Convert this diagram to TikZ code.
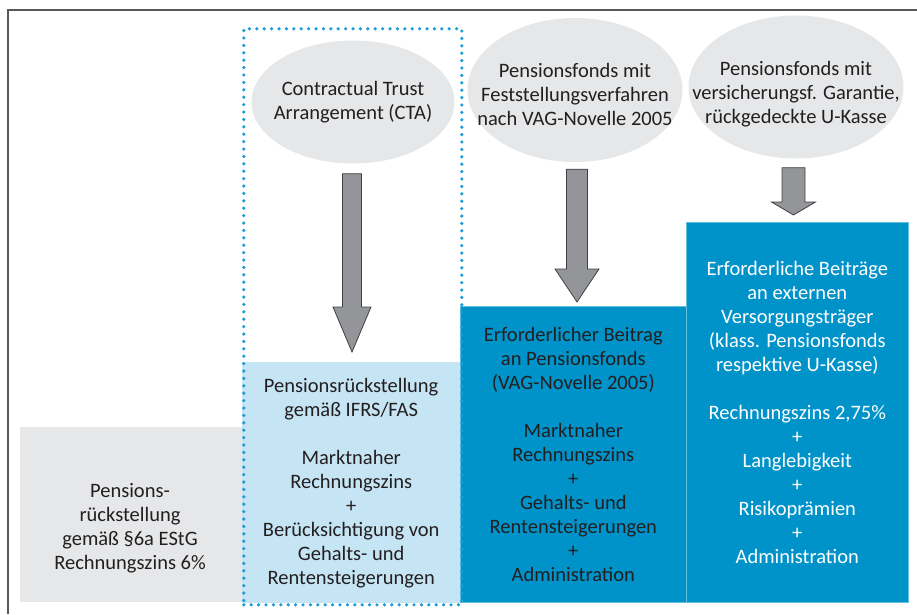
\documentclass[tikz,border=0pt]{standalone}
\usepackage{fontspec}
\setmainfont{Carlito}
\usetikzlibrary{calc,shapes.geometric}
\definecolor{ovalgray}{HTML}{E6E7E8}
\definecolor{lightblue}{HTML}{C5E4F4}
\definecolor{boxblue}{HTML}{0093C9}
\definecolor{dotblue}{HTML}{1B9DD9}
\definecolor{arrowgray}{HTML}{939598}
\definecolor{darktext}{HTML}{231F20}
\definecolor{framegray}{HTML}{58595B}
\newcommand\fatarrow[5]{%
  \draw[fat arrow] let \p1=(#1), \p2=(#2) in
    (\x1-#3,\y1) -- (\x1+#3,\y1) -- (\x1+#3,\y2+#5) -- (\x1+#4,\y2+#5)
    -- (\x1,\y2) -- (\x1-#4,\y2+#5) -- (\x1-#3,\y2+#5) -- cycle;}
\begin{document}
\begin{tikzpicture}[x=1pt,y=-1pt,
  every node/.style={font=\fontsize{20.5}{24}\selectfont, align=center, text=darktext, inner sep=0pt},
  oval/.style={ellipse, fill=ovalgray},
  panel/.style={rectangle, anchor=north west},
  fat arrow/.style={fill=arrowgray, draw=black!75, line width=0.8pt},
  cta dots/.style={draw=dotblue, line width=3.6pt, line cap=round, dash pattern=on 0pt off 7.4pt}]
\useasboundingbox (0,0) rectangle (917,614);
\draw[framegray, line width=1.6pt] (8,614) -- (8,10) -- (917,10);
\node[panel, fill=ovalgray, minimum width=222, minimum height=175] (estg) at (20,427) {};
\node (estgtxt) at (130,528) {Pensions-\\rückstellung\\gemäß §6a EStG\\Rechnungszins 6\%};
\node[panel, fill=lightblue, minimum width=218, minimum height=241] (ifrs) at (242,362)
  {Pensionsrückstellung\\gemäß IFRS/FAS\\[24pt]Marktnaher\\Rechnungszins\\+\\Berücksichtigung von\\Gehalts- und\\Rentensteigerungen};
\node[panel, fill=boxblue, draw=boxblue!60!white, line width=0.6pt, minimum width=226, minimum height=296] (vag) at (460,306)
  {Erforderlicher Beitrag\\an Pensionsfonds\\(VAG-Novelle 2005)\\[24pt]Marktnaher\\Rechnungszins\\+\\Gehalts- und\\Rentensteigerungen\\+\\Administration};
\node[panel, fill=boxblue, draw=boxblue!60!white, line width=0.6pt, text=white, minimum width=222, minimum height=380] (ext) at (686,222)
  {Erforderliche Beiträge\\an externen\\Versorgungsträger\\(klass. Pensionsfonds\\respektive U-Kasse)\\[24pt]Rechnungszins 2,75\%\\+\\Langlebigkeit\\+\\Risikoprämien\\+\\Administration};
\node[cta dots, panel, minimum width=218, minimum height=576] (ctabox) at (242,27) {};
\node[oval, minimum width=203, minimum height=123] (cta) at (353,102) {};
\node (ctatxt) at (cta) {Contractual Trust\\Arrangement (CTA)};
\node[oval, minimum width=215, minimum height=144] (pfv) at (575,90) {};
\node (pfvtxt) at ($(pfv)+(0,4)$) {Pensionsfonds mit\\Feststellungsverfahren\\nach VAG-Novelle 2005};
\node[oval, minimum width=215, minimum height=143] (pvg) at (796,87) {};
\node (pvgtxt) at ($(pvg)+(0,7)$) {Pensionsfonds mit\\versicherungsf. Garantie,\\rückgedeckte U-Kasse};
\fatarrow{$(cta.south)+(-1,10)$}{$(ifrs.north)+(0,-10)$}{9.5pt}{19pt}{45pt}
\fatarrow{$(pfv.south)+(2,7)$}{$(vag.north)+(0,-4)$}{10.5pt}{22pt}{33pt}
\fatarrow{$(pvg.south)+(-2.5,9)$}{$(ext.north)+(0,-7)$}{11.5pt}{22pt}{13pt}
\end{tikzpicture}
\end{document}
